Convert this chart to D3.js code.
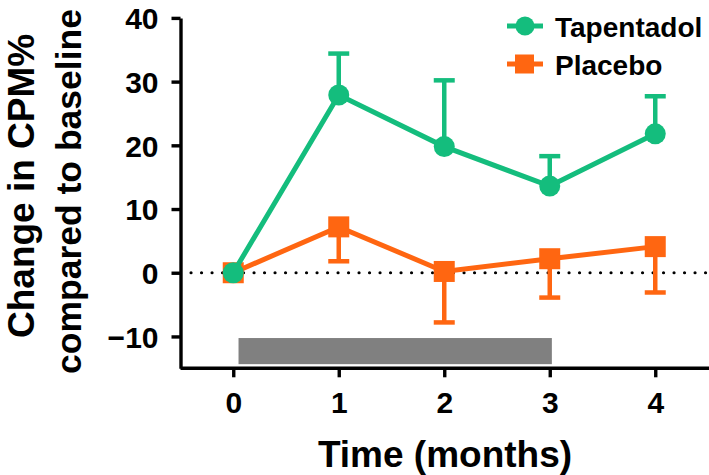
<!DOCTYPE html>
<html><head><meta charset="utf-8">
<script src="https://cdn.jsdelivr.net/npm/d3@7"></script>
<style>body{margin:0;background:#fff;}svg{display:block;font-family:"Liberation Sans",Arial,Helvetica,sans-serif;font-weight:bold;}</style>
</head><body>
<script>
const months = [0, 1, 2, 3, 4];
const tapentadol = [0, 27.9, 19.8, 13.6, 21.8];
const tapentadolErrUpper = [0, 34.4, 30.2, 18.3, 27.7];
const placebo = [0, 7.2, 0.2, 2.2, 4.1];
const placeboErrLower = [0, 1.8, -7.8, -3.9, -3.1];
const xTicks = [0, 1, 2, 3, 4];
const yTicks = [-10, 0, 10, 20, 30, 40];
const treatmentBar = {start: 0.05, end: 3.02, top: -10.25, bottom: -14.35};
const seriesNames = ["Tapentadol", "Placebo"];

const W = 709, H = 475;
const green = "#14bd7d", orange = "#ff6611";
const svg = d3.select("body").append("svg").attr("width", W).attr("height", H);
const x = d3.scaleLinear().domain([-0.5, 4.5]).range([180.5, 708]);
const y = d3.scaleLinear().domain([-15, 40]).range([368.3, 17.9]);

// treatment bar
svg.append("rect")
  .attr("x", x(treatmentBar.start)).attr("width", x(treatmentBar.end) - x(treatmentBar.start))
  .attr("y", y(treatmentBar.top)).attr("height", y(treatmentBar.bottom) - y(treatmentBar.top))
  .attr("fill", "#808080");

// dotted zero line
svg.append("line").attr("x1", x(-0.4)).attr("x2", W).attr("y1", y(0)).attr("y2", y(0))
  .attr("stroke", "#000").attr("stroke-width", 3.2).attr("stroke-linecap", "round")
  .attr("stroke-dasharray", "0,10.5");

// axes
const yAxis = svg.append("g").attr("transform", `translate(${x(-0.5)},0)`)
  .call(d3.axisLeft(y).tickValues(yTicks).tickSize(9).tickSizeOuter(0).tickPadding(13));
const xAxis = svg.append("g").attr("transform", `translate(0,${y(-15)})`)
  .call(d3.axisBottom(x).tickValues(xTicks).tickFormat(d3.format("d")).tickSize(9).tickSizeOuter(0).tickPadding(14));
[yAxis, xAxis].forEach(g => {
  g.selectAll("path,line").attr("stroke", "#000").attr("stroke-width", 3.4);
  g.selectAll("text").attr("fill", "#000").style("font-size", "30px").style("font-weight", "bold")
   .style("font-family", '"Liberation Sans",Arial,sans-serif');
});
yAxis.selectAll("text").attr("dy", "0.36em");
xAxis.selectAll("text").attr("dy", "0.72em");
xAxis.select(".domain").attr("d", `M${x(-0.5)},0H${W}`);

// axis titles
svg.append("text").attr("x", 445).attr("y", 467).attr("text-anchor", "middle")
  .style("font-size", "37px").text("Time (months)");
svg.append("text").attr("transform", "translate(34,338) rotate(-90)")
  .style("font-size", "37px").text("Change in CPM%");
svg.append("text").attr("transform", "translate(81,374) rotate(-90)")
  .style("font-size", "35.5px").text("compared to baseline");

const line = d3.line().x((d, i) => x(months[i])).y(d => y(d));

// placebo series
const pg = svg.append("g");
pg.selectAll("line.err").data(months).join("line")
  .attr("x1", d => x(d)).attr("x2", d => x(d))
  .attr("y1", (d, i) => y(placebo[i])).attr("y2", (d, i) => y(placeboErrLower[i]))
  .attr("stroke", orange).attr("stroke-width", 4.5);
pg.selectAll("line.cap").data(months.filter((d, i) => i > 0)).join("line")
  .attr("x1", d => x(d) - 10.5).attr("x2", d => x(d) + 10.5)
  .attr("y1", d => y(placeboErrLower[d])).attr("y2", d => y(placeboErrLower[d]))
  .attr("stroke", orange).attr("stroke-width", 4.5);
pg.append("path").datum(placebo).attr("d", line).attr("fill", "none")
  .attr("stroke", orange).attr("stroke-width", 5);
pg.selectAll("rect").data(placebo).join("rect")
  .attr("x", (d, i) => x(months[i]) - 10.5).attr("y", d => y(d) - 10.5)
  .attr("width", 21).attr("height", 21).attr("fill", orange);

// tapentadol series
const tg = svg.append("g");
tg.selectAll("line.err").data(months).join("line")
  .attr("x1", d => x(d)).attr("x2", d => x(d))
  .attr("y1", (d, i) => y(tapentadol[i])).attr("y2", (d, i) => y(tapentadolErrUpper[i]))
  .attr("stroke", green).attr("stroke-width", 4.5);
tg.selectAll("line.cap").data(months.filter((d, i) => i > 0)).join("line")
  .attr("x1", d => x(d) - 10.5).attr("x2", d => x(d) + 10.5)
  .attr("y1", d => y(tapentadolErrUpper[d])).attr("y2", d => y(tapentadolErrUpper[d]))
  .attr("stroke", green).attr("stroke-width", 4.5);
tg.append("path").datum(tapentadol).attr("d", line).attr("fill", "none")
  .attr("stroke", green).attr("stroke-width", 5);
tg.selectAll("circle").data(tapentadol).join("circle")
  .attr("cx", (d, i) => x(months[i])).attr("cy", d => y(d)).attr("r", 10.5).attr("fill", green);

// legend
const leg = svg.append("g");
const legY = [26, 64];
[green, orange].forEach((c, i) => {
  leg.append("line").attr("x1", 507).attr("x2", 543).attr("y1", legY[i]).attr("y2", legY[i])
    .attr("stroke", c).attr("stroke-width", 5);
  if (i === 0) leg.append("circle").attr("cx", 525).attr("cy", legY[i]).attr("r", 9.5).attr("fill", c);
  else leg.append("rect").attr("x", 515).attr("y", legY[i] - 9.5).attr("width", 19).attr("height", 19).attr("fill", c);
  leg.append("text").attr("x", 555).attr("y", legY[i] + 11).style("font-size", "28px").text(seriesNames[i]);
});
</script>
</body></html>
